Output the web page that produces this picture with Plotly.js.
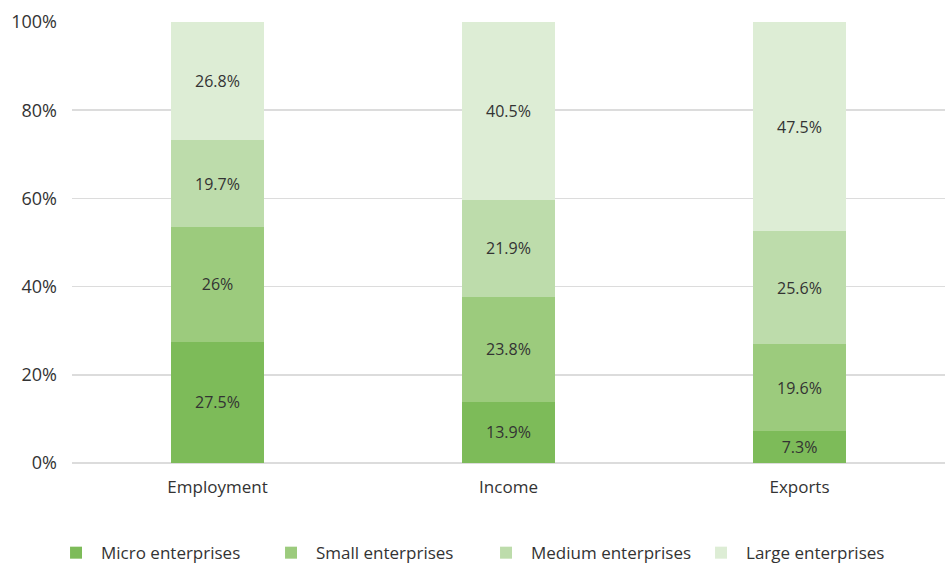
<!DOCTYPE html>
<html><head><meta charset="utf-8">
<script src="https://cdn.plot.ly/plotly-3.0.1.min.js"></script>
<style>body{margin:0;background:#fff}#c{width:945px;height:572px}</style>
</head><body><div id="c"></div>
<script>
var categories = ["Employment", "Income", "Exports"];
var micro = [27.5, 13.9, 7.3];
var small = [26, 23.8, 19.6];
var medium = [19.7, 21.9, 25.6];
var large = [26.8, 40.5, 47.5];
var seriesNames = ["Micro enterprises", "Small enterprises", "Medium enterprises", "Large enterprises"];
var colors = ["#7dbb59", "#9ccb7d", "#bddcab", "#ddedd5"];
var yTickVals = [0, 20, 40, 60, 80, 100];
var yTickText = ["0%", "20%", "40%", "60%", "80%", "100%"];
var series = [micro, small, medium, large];

var traces = series.map(function(v, i){
  return {
    type: "bar", name: seriesNames[i], x: categories, y: v,
    marker: {color: colors[i]},
    text: v.map(function(d){return d + "%";}),
    textposition: "inside", insidetextanchor: "middle",
    textfont: {family: "Open Sans, sans-serif", size: 16, color: "#333"},
    hoverinfo: "skip"
  };
});

var layout = {
  barmode: "stack", bargap: 0.68,
  width: 945, height: 572,
  margin: {l: 72, r: 0, t: 22, b: 109},
  paper_bgcolor: "#fff", plot_bgcolor: "#fff",
  font: {family: "Open Sans, sans-serif", size: 17, color: "#333"},
  xaxis: {showgrid: false, showline: false, ticks: "", ticklabelstandoff: 12, tickfont: {size: 17, color: "#333"}},
  yaxis: {range: [0, 100], tickvals: yTickVals, ticktext: yTickText,
          showgrid: true, gridcolor: "#dcdcdc", gridwidth: 1.5, zeroline: true, zerolinecolor: "#dcdcdc", zerolinewidth: 1.5,
          ticks: "", ticklabelstandoff: 14, tickfont: {size: 18, color: "#333"}},
  legend: {orientation: "h", xref: "container", yref: "container", x: 0.054, xanchor: "left", y: 0.033, yanchor: "middle",
           traceorder: "normal", font: {size: 17, color: "#333"}, itemwidth: 40, entrywidth: 160},
  showlegend: true
};
Plotly.newPlot("c", traces, layout, {displayModeBar: false, staticPlot: true});
</script></body></html>
